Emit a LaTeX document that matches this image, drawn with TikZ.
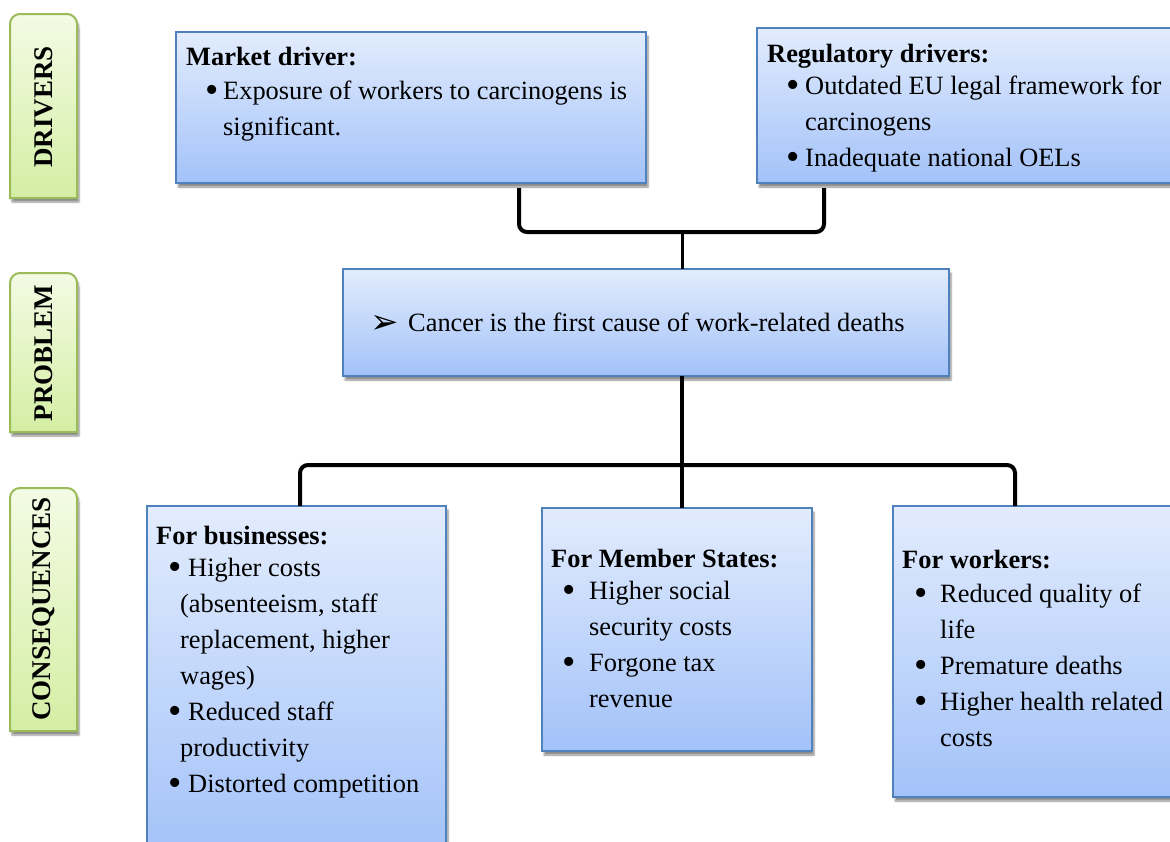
\documentclass[tikz,border=0pt]{standalone}
\usepackage{fontspec}
\setmainfont{Liberation Serif}
\newfontfamily\dingfont{DejaVu Sans}
\usetikzlibrary{shadows.blur}

\definecolor{boxtop}{RGB}{226,236,253}
\definecolor{boxbot}{RGB}{163,194,249}
\definecolor{boxline}{RGB}{79,129,189}
\definecolor{lbltop}{RGB}{243,251,228}
\definecolor{lblbot}{RGB}{212,238,164}
\definecolor{lblline}{RGB}{155,187,89}

% bullet: indent, distance from bullet to text
\newcommand{\bul}[2]{\hspace*{#1pt}\makebox[#2pt][l]{\raisebox{-3pt}{\fontsize{38}{38}\selectfont\textbullet}}}
\newcommand{\ind}[1]{\hspace*{#1pt}}

\begin{document}
\begin{tikzpicture}[x=1pt, y=-1pt,
  font=\fontsize{26.4}{36}\selectfont,
  bluebox/.style={draw=boxline, line width=1.5pt, top color=boxtop, bottom color=boxbot,
    inner sep=0pt, outer sep=0pt, anchor=north west,
    blur shadow={shadow xshift=2pt, shadow yshift=-4pt, shadow blur steps=6, shadow opacity=45}},
  lblbox/.style={draw=lblline, line width=2pt, top color=lbltop, bottom color=lblbot,
    blur shadow={shadow xshift=2pt, shadow yshift=-4pt, shadow blur steps=6, shadow opacity=45}},
  lbltxt/.style={rotate=90, font=\fontsize{27}{30}\selectfont\bfseries},
  txt/.style={anchor=north west, inner sep=0pt, align=left},
  link/.style={line width=4pt, rounded corners=8pt}]

  \useasboundingbox (0,0) rectangle (1170,841);
  \clip (0,0) rectangle (1170,841);

  % Labels on the left
  \path[lblbox] (10,198) [rounded corners=10pt] -- (10,14) -- (77,14) -- (77,100) [sharp corners] -- (77,198) -- cycle;
  \node[lbltxt] (drvlbl) at (44,107) {DRIVERS};

  \path[lblbox] (10,432) [rounded corners=10pt] -- (10,273) -- (77,273) -- (77,350) [sharp corners] -- (77,432) -- cycle;
  \node[lbltxt] (problbl) at (44,353) {PROBLEM};

  \path[lblbox] (10,731) [rounded corners=10pt] -- (10,488) -- (77,488) -- (77,600) [sharp corners] -- (77,731) -- cycle;
  \node[lbltxt] (conslbl) at (44,609) {CONSEQUENCES};

  % Drivers
  \node[bluebox, minimum width=470pt, minimum height=151pt] (market) at (176,32) {};
  \node[txt] (markettxt) at (186,47) {\textbf{Market driver:}\\[-2pt]
    \bul{19}{18}Exposure of workers to carcinogens is\\
    \ind{37}significant.};

  \node[bluebox, minimum width=430pt, minimum height=155pt] (regul) at (757,28) {};
  \node[txt] (regultxt) at (767,44) {\textbf{Regulatory drivers:}\\[-4pt]
    \bul{19}{19}Outdated EU legal framework for\\
    \ind{38}carcinogens\\
    \bul{19}{19}Inadequate national OELs};

  % Problem
  \node[bluebox, minimum width=606pt, minimum height=107pt] (problem) at (343,269) {};
  \node[anchor=base west, inner sep=0pt, font=\fontsize{34}{36}\dingfont] (probarr) at (370,333) {➢};
  \node[anchor=base west, inner sep=0pt] (probtxt) at (408,331) {Cancer is the first cause of work-related deaths};

  % Consequences
  \node[bluebox, minimum width=299pt, minimum height=350pt] (business) at (147,506) {};
  \node[txt] (businesstxt) at (156,526) {\textbf{For businesses:}\\[-4pt]
    \bul{12}{20}Higher costs\\
    \ind{24}(absenteeism, staff\\
    \ind{24}replacement, higher\\
    \ind{24}wages)\\
    \bul{12}{20}Reduced staff\\
    \ind{24}productivity\\
    \bul{12}{20}Distorted competition};

  \node[bluebox, minimum width=270pt, minimum height=243pt] (member) at (542,508) {};
  \node[txt] (membertxt) at (551,549) {\textbf{For Member States:}\\[-4pt]
    \bul{11}{27}Higher social\\
    \ind{38}security costs\\
    \bul{11}{27}Forgone tax\\
    \ind{38}revenue};

  \node[bluebox, minimum width=300pt, minimum height=291pt] (workers) at (893,506) {};
  \node[txt] (workerstxt) at (902,550) {\textbf{For workers:}\\[-2pt]
    \bul{12}{26}Reduced quality of\\
    \ind{38}life\\
    \bul{12}{26}Premature deaths\\
    \bul{12}{26}Higher health related\\
    \ind{38}costs};

  % Brackets
  \coordinate (dl) at (519,232);
  \coordinate (dr) at (824,232);
  \coordinate (dm) at (682,232);
  \draw[link, shorten <=5pt, shorten >=5pt] (dl |- market.south) -- (dl) -- (dr) -- (dr |- regul.south);
  \draw[line width=3pt] (dm) -- (dm |- problem.north);

  \coordinate (cl) at (300,465);
  \coordinate (cr) at (1015,465);
  \coordinate (cm) at (682,465);
  \draw[line width=4pt] (cm |- problem.south) -- (cm |- member.north);
  \draw[link] (cl |- business.north) -- (cl) -- (cr) -- (cr |- workers.north);

\end{tikzpicture}
\end{document}
